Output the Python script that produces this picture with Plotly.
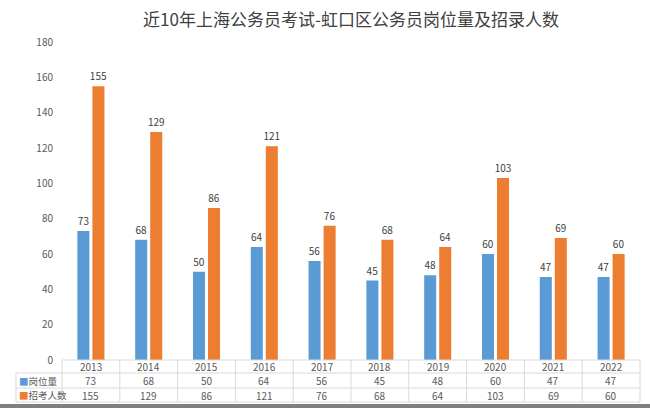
import plotly.graph_objects as go

years = ["2013", "2014", "2015", "2016", "2017", "2018", "2019", "2020", "2021", "2022"]
posts = [73, 68, 50, 64, 56, 45, 48, 60, 47, 47]
applicants = [155, 129, 86, 121, 76, 68, 64, 103, 69, 60]
series_names = ["岗位量", "招考人数"]
colors = ["#5B9BD5", "#ED7D31"]
title = "近10年上海公务员考试-虹口区公务员岗位量及招录人数"

W, H = 650, 408
ML, MR, MT, MB = 62, 10, 42, 48
PW = W - ML - MR
PH = H - MT - MB

def py(pix):  # pixel y -> paper y
    return (H - MB - pix) / PH

def px(pix):  # pixel x -> paper x
    return (pix - ML) / PW

font = "Noto Sans CJK SC, Microsoft YaHei, sans-serif"
fig = go.Figure()
for name, vals, c in zip(series_names, [posts, applicants], colors):
    fig.add_trace(go.Bar(
        x=years, y=vals, name=name, marker=dict(color=c, line=dict(width=0)),
        text=[str(v) for v in vals], textposition="outside", constraintext="none",
        textfont=dict(size=10, color="#404040", family=font),
        cliponaxis=False, hoverinfo="skip",
    ))

shapes = []
line_col = "#D9D9D9"
n = len(years)
row_y = [py(360), py(373), py(388), py(402)]
shapes.append(dict(type="line", xref="paper", yref="paper", x0=0, x1=1, y0=row_y[0], y1=row_y[0], line=dict(color=line_col, width=1)))
for ry in row_y[1:]:
    shapes.append(dict(type="line", xref="paper", yref="paper", x0=px(16), x1=1, y0=ry, y1=ry, line=dict(color=line_col, width=1)))
for i in range(n + 1):
    shapes.append(dict(type="line", xref="paper", yref="paper", x0=i / n, x1=i / n, y0=row_y[0], y1=row_y[3], line=dict(color=line_col, width=1)))
shapes.append(dict(type="line", xref="paper", yref="paper", x0=px(16), x1=px(16), y0=row_y[1], y1=row_y[3], line=dict(color=line_col, width=1)))
shapes.append(dict(type="rect", xref="paper", yref="paper", x0=px(0), x1=px(650), y0=py(404), y1=py(409), fillcolor="#7F7F7F", line=dict(width=0)))

annotations = []
tfont = dict(size=10, color="#595959", family=font)
centers = [(row_y[0] + row_y[1]) / 2, (row_y[1] + row_y[2]) / 2, (row_y[2] + row_y[3]) / 2]
for i, yr in enumerate(years):
    xc = (i + 0.5) / n
    for k, txt in enumerate([yr, str(posts[i]), str(applicants[i])]):
        annotations.append(dict(x=xc, xref="paper", y=centers[k], yref="paper", text=txt,
                                xanchor="center", yanchor="middle", showarrow=False, font=tfont))
for k, (name, c) in enumerate(zip(series_names, colors)):
    annotations.append(dict(x=px(17), xref="paper", y=centers[k + 1], yref="paper", xanchor="left", yanchor="middle",
                            text=f"<span style='color:{c}'>■</span>{name}", showarrow=False,
                            font=dict(size=9.5, color="#595959", family=font)))

fig.update_layout(
    width=W, height=H,
    margin=dict(l=ML, r=MR, t=MT, b=MB),
    paper_bgcolor="white", plot_bgcolor="white",
    title=dict(text=title, x=0.5, xref="paper", xanchor="center", y=1 - 20 / H, yanchor="middle",
               font=dict(size=17, color="#404040", family=font)),
    showlegend=False,
    barmode="group", bargap=0.48, bargroupgap=0.2,
    xaxis=dict(type="category", range=[-0.5, n - 0.5], showticklabels=False, showgrid=False,
               zeroline=False, showline=False, ticks=""),
    yaxis=dict(range=[0, 180], dtick=20, showgrid=False, zeroline=False, showline=False,
               tickfont=dict(size=10, color="#595959", family=font), ticks="", ticklabelstandoff=8),
    shapes=shapes, annotations=annotations,
)
fig.write_html("out.html", config={"displayModeBar": False},
               post_script="document.body.style.margin='0';document.body.style.padding='0';")
